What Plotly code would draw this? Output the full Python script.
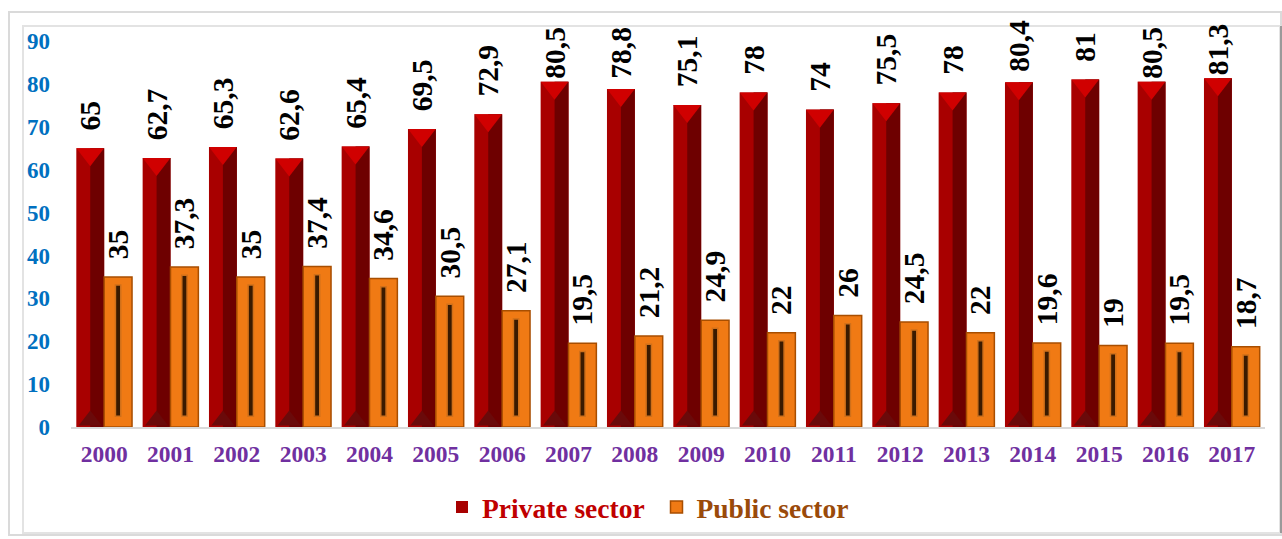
import plotly.graph_objects as go

years = ["2000", "2001", "2002", "2003", "2004", "2005", "2006", "2007", "2008",
         "2009", "2010", "2011", "2012", "2013", "2014", "2015", "2016", "2017"]
private = [65, 62.7, 65.3, 62.6, 65.4, 69.5, 72.9, 80.5, 78.8,
           75.1, 78, 74, 75.5, 78, 80.4, 81, 80.5, 81.3]
public = [35, 37.3, 35, 37.4, 34.6, 30.5, 27.1, 19.5, 21.2,
          24.9, 22, 26, 24.5, 22, 19.6, 19, 19.5, 18.7]

x = list(range(len(years)))

SERIF = "Liberation Serif"
LABEL_SIZE = 29.5
label_font = dict(family=SERIF, size=LABEL_SIZE, color="black", weight="bold")

# frame geometry (pixels)
L, R, T, B, W, H = 71, 17, 41, 112, 1282, 539
pw, ph = W - L - R, H - T - B
YMAX = 90


def fmt(v):
    """Label text; leading no-break spaces give the gap above the bar,
    reduced when the label would run above the chart area (as Excel does)."""
    s = ("%g" % v).replace(".", ",")
    length = sum(0.25 if c == "," else 0.5 for c in s) * LABEL_SIZE
    bar_top = H - B - v * ph / YMAX
    k = 2
    while k > 0 and bar_top - 3 - k * 0.25 * LABEL_SIZE - length < 20:
        k -= 1
    return "\u00a0" * k + s


fig = go.Figure()

# Private sector: main bar (left face) with labels
fig.add_trace(go.Bar(
    x=x, y=private, offset=-0.42, width=0.42,
    name="<span style='color:#C00000'>Private sector</span>\u00a0",
    marker=dict(color="#A80000", line=dict(width=0)),
    text=[fmt(v) for v in private], textposition="outside", textangle=-90,
    textfont=label_font, constraintext="none", cliponaxis=False,
    hoverinfo="skip",
))
# Private sector: right dark face
fig.add_trace(go.Bar(
    x=x, y=private, offset=-0.21, width=0.21,
    marker=dict(color="#6E0000", line=dict(width=0)),
    showlegend=False, hoverinfo="skip",
))
# Public sector: main orange bar with labels
fig.add_trace(go.Bar(
    x=x, y=public, offset=0.0, width=0.42,
    name="<span style='color:#9A4A0A'>Public sector</span>",
    marker=dict(color="#F07A14", line=dict(color="#A84E00", width=1.5)),
    text=[fmt(v) for v in public], textposition="outside", textangle=-90,
    textfont=label_font, constraintext="none", cliponaxis=False,
    hoverinfo="skip",
))
# Public sector: inner bevel strip
fig.add_trace(go.Bar(
    x=x, y=[v - 4.4 for v in public], base=2.5, offset=0.17, width=0.08,
    marker=dict(color="#3A1A00", line=dict(color="#D0701A", width=1.5)),
    showlegend=False, hoverinfo="skip",
))
# Private sector: top bevel triangle
fig.add_trace(go.Scatter(
    x=[i - 0.21 for i in x], y=[v - 1.4 for v in private], mode="markers",
    marker=dict(symbol="triangle-down", size=24, color="#D00000", line=dict(width=0)),
    showlegend=False, hoverinfo="skip", cliponaxis=False,
))
# Private sector: bottom bevel triangle
fig.add_trace(go.Scatter(
    x=[i - 0.21 for i in x], y=[1.5] * len(x), mode="markers",
    marker=dict(symbol="triangle-up", size=20, color="#6A0A0A", line=dict(width=0)),
    showlegend=False, hoverinfo="skip", cliponaxis=False,
))


def px_x(p):
    return (p - L) / pw


def px_y(p):
    return (H - B - p) / ph


fig.update_layout(
    width=W, height=H,
    margin=dict(l=L, r=R, t=T, b=B, autoexpand=False),
    paper_bgcolor="white", plot_bgcolor="white",
    barmode="overlay",
    showlegend=True,
    legend=dict(orientation="h", x=px_x(442), xanchor="left", y=px_y(507), yanchor="middle",
                font=dict(family=SERIF, size=27.5, weight="bold"),
                traceorder="normal", itemwidth=30, bgcolor="rgba(0,0,0,0)"),
    xaxis=dict(range=[-0.5, 17.5], tickmode="array", tickvals=x, ticktext=years,
               showgrid=False, zeroline=False, showline=True, linecolor="#D9D9D9",
               linewidth=2, ticks="", ticklabelstandoff=5, automargin=False,
               tickfont=dict(family=SERIF, size=23.5, color="#7030A0", weight="bold")),
    yaxis=dict(range=[0, YMAX], dtick=10, showgrid=False, zeroline=False, showline=False,
               ticks="", ticklabelstandoff=20, automargin=False,
               tickfont=dict(family=SERIF, size=23, color="#0070C0", weight="bold")),
    shapes=[
        dict(type="rect", xref="paper", yref="paper", layer="below",
             x0=px_x(9), x1=px_x(1281), y0=px_y(535), y1=px_y(12),
             line=dict(color="#DADADA", width=2)),
        dict(type="rect", xref="paper", yref="paper", layer="below",
             x0=px_x(23), x1=px_x(1280), y0=px_y(533), y1=px_y(26),
             line=dict(color="#E3E3E3", width=2)),
        dict(type="line", xref="paper", yref="paper", layer="below",
             x0=px_x(1281), x1=px_x(1281), y0=px_y(533), y1=px_y(26),
             line=dict(color="#9A9A9A", width=2)),
    ],
)

fig.write_html("out.html", config={"displayModeBar": False},
               post_script="document.body.style.margin='0';document.body.style.overflow='hidden';")
